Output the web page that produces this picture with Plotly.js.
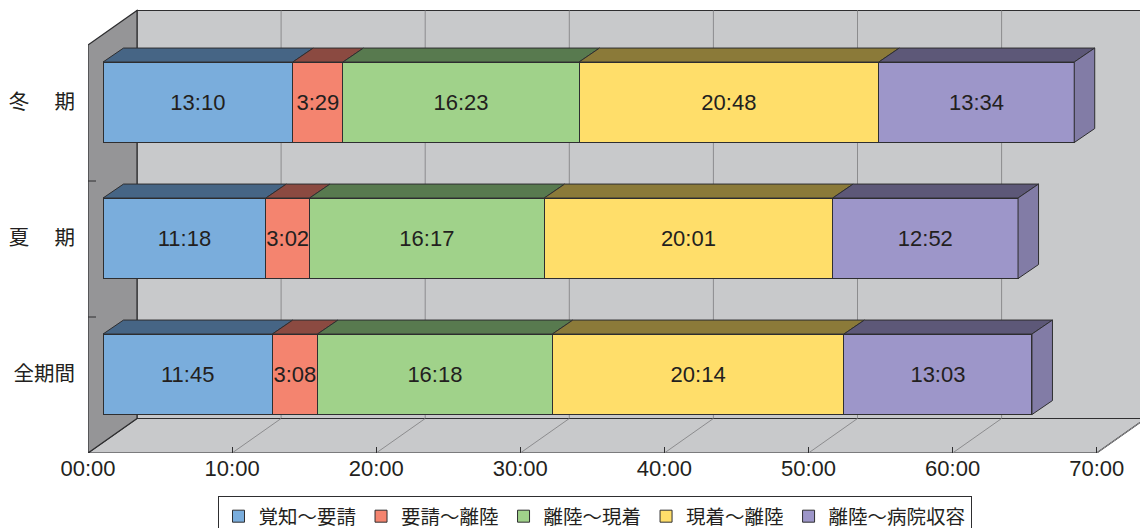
<!DOCTYPE html>
<html>
<head>
<meta charset="utf-8">
<script src="https://cdn.plot.ly/plotly-3.0.1.min.js"></script>
<style>
html,body{margin:0;padding:0;background:#fff;}
#chart{width:1140px;height:528px;}
</style>
</head>
<body>
<div id="chart"></div>
<script>
// ---- data (categories bottom -> top) ----
const categories = ['全期間', '夏期', '冬期'];
const categoryLabels = ['全期間', '夏　 期', '冬　 期'];
const seriesNames = ['覚知～要請', '要請～離陸', '離陸～現着', '現着～離陸', '離陸～病院収容'];
const s1 = ['11:45', '11:18', '13:10'];
const s2 = ['3:08', '3:02', '3:29'];
const s3 = ['16:18', '16:17', '16:23'];
const s4 = ['20:14', '20:01', '20:48'];
const s5 = ['13:03', '12:52', '13:34'];
const tickVals = [0, 10, 20, 30, 40, 50, 60, 70];
const tickText = ['00:00', '10:00', '20:00', '30:00', '40:00', '50:00', '60:00', '70:00'];

// ---- styles ----
const frontColors = ['#7aaddc', '#f4846f', '#a0d28a', '#ffde6a', '#9d96c9'];
const topColors = ['#466585', '#8b4a41', '#587a4f', '#8b7a39', '#5d5878'];
const sideColor = '#827ca6';
const edge = '#2e2e30';
const textColor = '#231f20';
const FONT = 'Liberation Sans, Arial, Noto Sans CJK JP, sans-serif';
const CJK = 'Noto Sans CJK JP, sans-serif';

// ---- geometry (pixel based scaling) ----
const W = 1140, H = 528, ML = 88, MB = 75;
const plotW = W - ML, plotH = H - MB;
const pxPerMin = 14.41, pxPerCat = 136;
const xRange = [0, plotW / pxPerMin];
const yRange = [-0.5, -0.5 + plotH / pxPerCat];
const wallDx = 49 / pxPerMin, wallDy = 34.5 / pxPerCat;   // full depth of box
const barShiftX = 15 / pxPerMin, barShiftY = 10.7 / pxPerCat; // bar front offset
const barDx = 20.5 / pxPerMin, barDy = 14 / pxPerCat;       // bar depth
const barW = 80.5 / pxPerCat;
const XMAX = tickVals[tickVals.length - 1];
const nCat = categories.length;

const toMin = s => { const p = s.split(':').map(Number); return p[0] + p[1] / 60; };
const series = [s1, s2, s3, s4, s5];
const values = series.map(s => s.map(toMin));
const catPos = categories.map((c, i) => i);

// ---- box: walls, floor, grid ----
const yb = -0.5, yt = -0.5 + nCat;
const shapes = [];
shapes.push({type: 'path', xref: 'x', yref: 'y', layer: 'below',
  path: `M${wallDx},${yb + wallDy} L${XMAX + 20},${yb + wallDy} L${XMAX + 20},${yt + wallDy} L${wallDx},${yt + wallDy} Z`,
  fillcolor: '#c8c9cb', line: {color: edge, width: 1.2}});
tickVals.forEach(t => {
  if (t === 0) return;
  shapes.push({type: 'line', xref: 'x', yref: 'y', layer: 'below',
    x0: t + wallDx, x1: t + wallDx, y0: yb + wallDy, y1: yt + wallDy,
    line: {color: '#8c8c8e', width: 1}});
});
shapes.push({type: 'path', xref: 'x', yref: 'y', layer: 'below',
  path: `M0,${yb} L${XMAX},${yb} L${XMAX + wallDx},${yb + wallDy} L${wallDx},${yb + wallDy} Z`,
  fillcolor: '#c8c9cb', line: {color: edge, width: 1.2}});
tickVals.forEach(t => {
  if (t === 0) return;
  shapes.push({type: 'line', xref: 'x', yref: 'y', layer: 'below',
    x0: t, x1: t + wallDx, y0: yb, y1: yb + wallDy,
    line: {color: '#8c8c8e', width: 1}});
});
shapes.push({type: 'path', xref: 'x', yref: 'y', layer: 'below',
  path: `M0,${yb} L0,${yt} L${wallDx},${yt + wallDy} L${wallDx},${yb + wallDy} Z`,
  fillcolor: '#959597', line: {color: edge, width: 1.2}});
for (let i = 1; i < nCat; i++) {
  shapes.push({type: 'line', xref: 'x', yref: 'y', layer: 'below',
    x0: 0, x1: 8 / pxPerMin, y0: yb + i, y1: yb + i, line: {color: edge, width: 1}});
}

// ---- traces ----
const traces = [];
series.forEach((s, k) => {
  traces.push({
    type: 'bar', orientation: 'h', name: seriesNames[k],
    x: values[k], y: catPos, xaxis: 'x2', yaxis: 'y2',
    width: barW,
    marker: {color: frontColors[k], line: {color: edge, width: 1}},
    text: s, textposition: 'inside', insidetextanchor: 'middle', textangle: 0,
    constraintext: 'none', cliponaxis: false,
    textfont: {family: FONT, size: 22, color: textColor},
    hoverinfo: 'skip'
  });
});
// top faces
const cum = catPos.map(() => 0);
series.forEach((s, k) => {
  const xs = [], ys = [];
  catPos.forEach((c, i) => {
    const x0 = cum[i], x1 = cum[i] + values[k][i];
    const ytop = c + barW / 2;
    xs.push(x0, x1, x1 + barDx, x0 + barDx, x0, null);
    ys.push(ytop, ytop, ytop + barDy, ytop + barDy, ytop, null);
    cum[i] = x1;
  });
  traces.push({type: 'scatter', mode: 'lines', fill: 'toself', xaxis: 'x2', yaxis: 'y2',
    x: xs, y: ys, fillcolor: topColors[k], line: {color: edge, width: 1},
    showlegend: false, hoverinfo: 'skip'});
});
// right side faces
const sx = [], sy = [];
catPos.forEach((c, i) => {
  const xe = cum[i], ytop = c + barW / 2, ybot = c - barW / 2;
  sx.push(xe, xe + barDx, xe + barDx, xe, xe, null);
  sy.push(ytop, ytop + barDy, ybot + barDy, ybot, ytop, null);
});
traces.push({type: 'scatter', mode: 'lines', fill: 'toself', xaxis: 'x2', yaxis: 'y2',
  x: sx, y: sy, fillcolor: sideColor, line: {color: edge, width: 1},
  showlegend: false, hoverinfo: 'skip'});

const layout = {
  width: W, height: H,
  margin: {l: ML, r: 0, t: 0, b: MB, autoexpand: false},
  paper_bgcolor: '#ffffff', plot_bgcolor: 'rgba(0,0,0,0)',
  font: {family: FONT, color: textColor},
  barmode: 'stack',
  showlegend: true,
  hovermode: false,
  xaxis: {range: xRange, showgrid: false, zeroline: false, showline: false, automargin: false,
    tickvals: tickVals, ticktext: tickText, ticks: 'inside', ticklen: 6, tickcolor: edge,
    tickfont: {family: FONT, size: 22, color: textColor}, fixedrange: true},
  yaxis: {range: yRange, showgrid: false, zeroline: false, showline: false, automargin: false,
    showticklabels: false, ticks: '', fixedrange: true},
  xaxis2: {overlaying: 'x', anchor: 'y', range: [xRange[0] - barShiftX, xRange[1] - barShiftX],
    visible: false, fixedrange: true},
  yaxis2: {overlaying: 'y', anchor: 'x', side: 'left', automargin: false,
    range: [yRange[0] - barShiftY, yRange[1] - barShiftY],
    showgrid: false, zeroline: false, showline: false,
    tickvals: catPos, ticktext: categoryLabels, ticks: 'outside', ticklen: 8,
    tickcolor: 'rgba(0,0,0,0)', tickfont: {family: CJK, size: 20.5, color: textColor},
    fixedrange: true},
  legend: {orientation: 'h', xanchor: 'center', x: (594.5 - ML) / plotW,
    yanchor: 'top', y: (plotH - 496) / plotH,
    bordercolor: edge, borderwidth: 1, bgcolor: '#ffffff',
    font: {family: CJK, size: 19.5, color: textColor}, traceorder: 'normal'},
  shapes: shapes
};

Plotly.newPlot('chart', traces, layout, {displayModeBar: false, staticPlot: true});
</script>
</body>
</html>
